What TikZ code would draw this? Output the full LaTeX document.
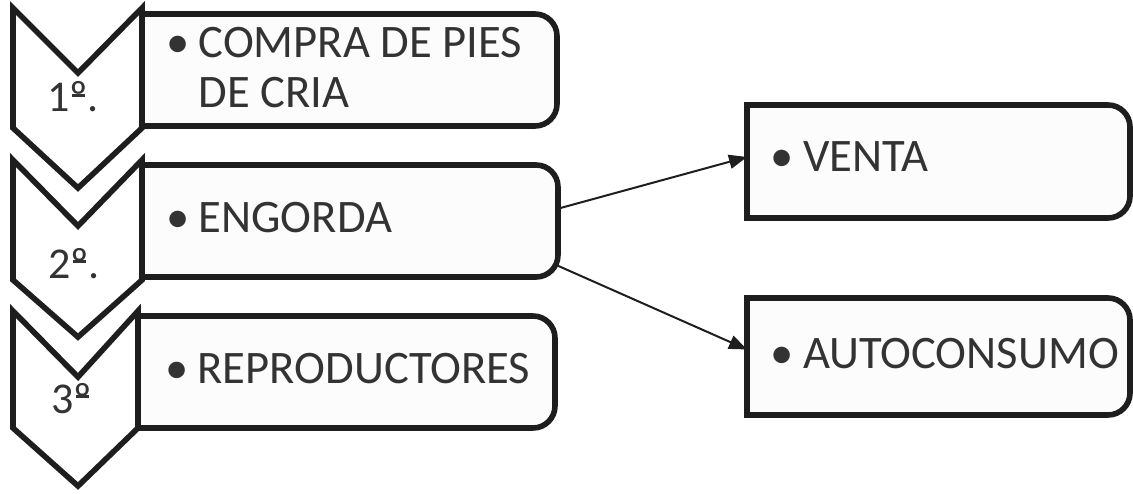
\documentclass[tikz,border=0pt]{standalone}
\usepackage{fontspec}
\setmainfont{Carlito}
\usetikzlibrary{arrows.meta,calc}
\definecolor{lineblack}{HTML}{1E1E1E}
\definecolor{textgray}{HTML}{333333}
\definecolor{boxfill}{HTML}{FCFCFC}
\newcommand{\boxrad}{11pt}
\newcommand{\rrbox}[1]{%
  \draw[boxline] (#1.north west) -- ([xshift=-\boxrad]#1.north east)
    arc[start angle=90,end angle=0,radius=\boxrad]
    -- ([yshift=\boxrad]#1.south east)
    arc[start angle=0,end angle=-90,radius=\boxrad]
    -- (#1.south west) -- cycle;}
\newcommand{\myordm}{{\setbox0\hbox{º}\rlap{\hbox to\wd0{\hss\raisebox{0.34em}{\rule{0.3em}{0.06em}}\hss}}\box0}}
\begin{document}
\begin{tikzpicture}[x=0.5pt,y=0.5pt,
  chev/.style={draw=lineblack,line width=2.8pt,fill=white,line join=miter},
  boxline/.style={draw=lineblack,line width=2.8pt,fill=boxfill},
  boxarea/.style={draw=none,inner sep=0pt,outer sep=0pt},
  txt/.style={text=textgray,font=\fontsize{23.3}{25}\selectfont,inner sep=0pt,anchor=base west},
  num/.style={text=textgray,font=\fontsize{22}{25}\selectfont,inner sep=0pt,anchor=base},
  link/.style={draw=lineblack,line width=1pt,-{Triangle[length=9pt,width=7pt]}}]
\useasboundingbox (0,0) rectangle (1133,493);
\fill[white] (0,0) rectangle (1133,493);

% chevrons
\draw[chev] (13,485) -- (78,420) -- (142,485) -- (142,365) -- (78,305) -- (13,365) -- cycle;
\draw[chev] (13,333) -- (78,267) -- (142,333) -- (142,213) -- (78,156) -- (13,213) -- cycle;
\draw[chev] (13,182) -- (78,116) -- (138,182) -- (138,65) -- (78,7) -- (13,65) -- cycle;

\node[num] (n1) at (73,381) {1\myordm.};
\node[num] (n2) at (74,215) {2\myordm.};
\node[num] (n3) at (71.5,80) {3\myordm};

% boxes
\node[boxarea,minimum width=207.5pt,minimum height=56pt] (b1) at (349.5,423) {};
\node[boxarea,minimum width=208pt,minimum height=56pt] (b2) at (350,272) {};
\node[boxarea,minimum width=208.5pt,minimum height=56pt] (b3) at (346.5,121) {};
\node[boxarea,minimum width=191.5pt,minimum height=56.5pt] (v) at (938.5,331.5) {};
\node[boxarea,minimum width=191.5pt,minimum height=58.5pt] (a) at (938.5,136.5) {};
\rrbox{b1}
\rrbox{b2}
\rrbox{b3}
\rrbox{v}
\rrbox{a}

% texts
\node[txt] (t1) at (166,435) {\begin{tabular}[t]{@{}l@{\hspace{4.5pt}}l@{}}•&COMPRA DE PIES\\&DE CRIA\end{tabular}};
\node[txt] (t2) at (166,260) {•\hspace{4.5pt}ENGORDA};
\node[txt] (t3) at (165,110) {•\hspace{4.5pt}REPRODUCTORES};
\node[txt] (tv) at (770.5,321) {•\hspace{4.5pt}VENTA};
\node[txt] (ta) at (770.5,125) {•\hspace{4.5pt}AUTOCONSUMO};

% connectors
\draw[link] ($(b2.north east)!0.39!(b2.south east)$) -- ($(v.north west)!0.46!(v.south west)$);
\draw[link] ($(b2.north east)!0.9!(b2.south east)$) -- ($(a.north west)!0.44!(a.south west)$);
\end{tikzpicture}
\end{document}
